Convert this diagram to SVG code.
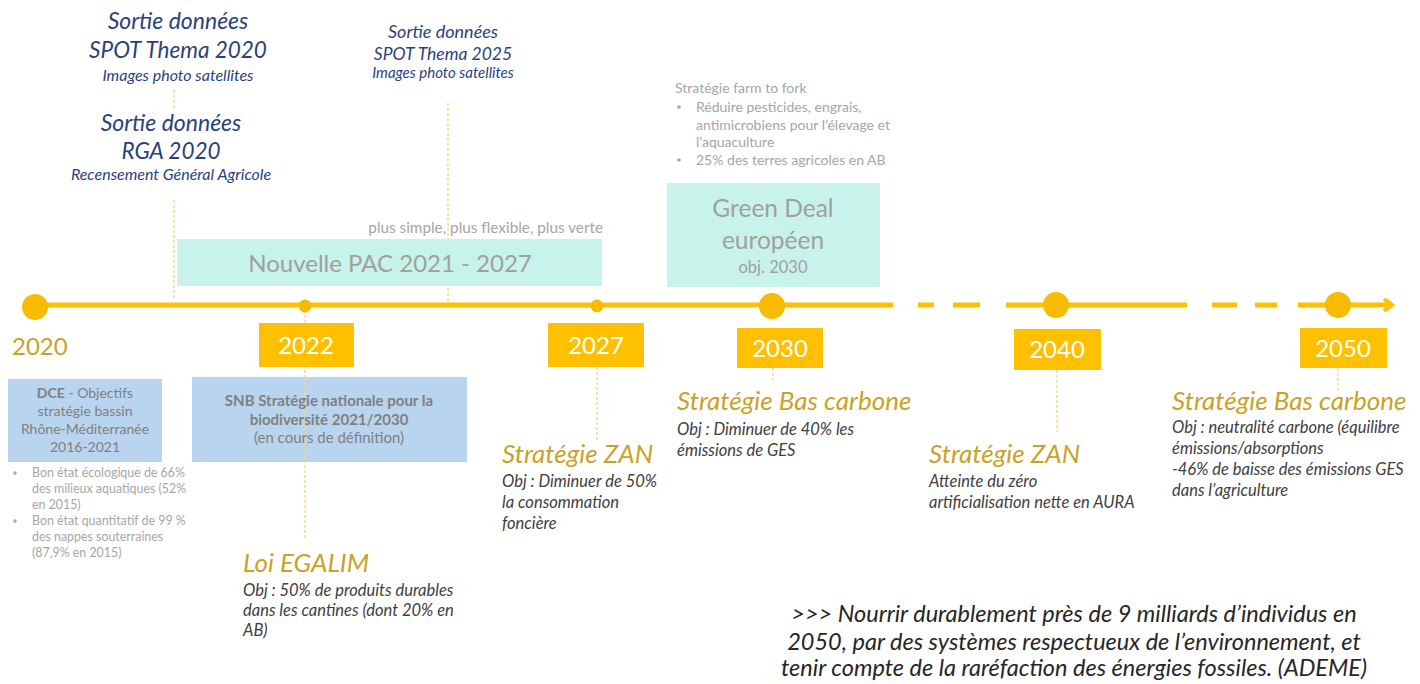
<svg xmlns="http://www.w3.org/2000/svg" width="1420" height="684" viewBox="0 0 1420 684">
<style>
text{font-family:Lato,"Open Sans","Liberation Sans",sans-serif}
.blue{fill:#2B3F7E;font-style:italic}
.gold{fill:#C9A227;font-style:italic;font-size:26px}
.desc{fill:#404040;font-style:italic;font-size:16.5px}
.gray{fill:#A6A6A6}
.box{fill:#FFC000}
.yr{fill:#FFFFFF;font-size:24px;text-anchor:middle}
.mint{fill:#C8F3EA}
.lblue{fill:#B9D4EE}
.vdash{stroke:#FFD27A;stroke-width:1.3;stroke-dasharray:3 2;fill:none}
.tl{stroke:#FFC000;stroke-width:5;fill:none}
.dot{fill:#F7BC00}
</style>
<defs>
<marker id="arr" markerWidth="12" markerHeight="14" refX="9" refY="7" orient="auto" markerUnits="userSpaceOnUse">
<path d="M1,1 L9,7 L1,13" fill="none" stroke="#FFC000" stroke-width="4" stroke-linejoin="miter"/>
</marker>
</defs>

<g id="connectors">
<line class="vdash" x1="174" y1="90" x2="174" y2="108"/>
<line class="vdash" x1="174" y1="200" x2="174" y2="300"/>
<line class="vdash" x1="448" y1="103" x2="448" y2="303"/>
<line class="vdash" x1="305" y1="310" x2="305" y2="540"/>
<line class="vdash" x1="597" y1="367" x2="597" y2="440"/>
<line class="vdash" x1="773" y1="368" x2="773" y2="380"/>
<line class="vdash" x1="1057" y1="370" x2="1057" y2="432"/>
<line class="vdash" x1="1338" y1="368" x2="1338" y2="392"/>
</g>

<g id="timeline">
<line class="tl" x1="35" y1="305" x2="893" y2="305"/>
<line class="tl" x1="918" y1="305" x2="934" y2="305"/>
<line class="tl" x1="953" y1="305" x2="980" y2="305"/>
<line class="tl" x1="1006" y1="305" x2="1187" y2="305"/>
<line class="tl" x1="1212" y1="305" x2="1237" y2="305"/>
<line class="tl" x1="1255" y1="305" x2="1277" y2="305"/>
<line class="tl" x1="1298" y1="305" x2="1392" y2="305" marker-end="url(#arr)"/>
<circle class="dot" cx="35" cy="307" r="13"/>
<circle class="dot" cx="305" cy="306" r="6.5"/>
<circle class="dot" cx="597" cy="306" r="6.5"/>
<circle class="dot" cx="772" cy="306" r="13"/>
<circle class="dot" cx="1056" cy="305" r="13"/>
<circle class="dot" cx="1338" cy="305" r="13"/>
</g>

<g id="spot2020">
<text class="blue" x="178" y="29" font-size="23" text-anchor="middle">Sortie données</text>
<text class="blue" x="178" y="58" font-size="22.5" text-anchor="middle">SPOT Thema 2020</text>
<text class="blue" x="178" y="81" font-size="16" text-anchor="middle">Images photo satellites</text>
</g>
<g id="rga2020">
<text class="blue" x="171" y="131" font-size="23" text-anchor="middle">Sortie données</text>
<text class="blue" x="171" y="159" font-size="22.5" text-anchor="middle">RGA 2020</text>
<text class="blue" x="171" y="180" font-size="16" text-anchor="middle">Recensement Général Agricole</text>
</g>
<g id="spot2025">
<text class="blue" x="443" y="38" font-size="18" text-anchor="middle">Sortie données</text>
<text class="blue" x="443" y="60" font-size="17.5" text-anchor="middle">SPOT Thema 2025</text>
<text class="blue" x="443" y="78" font-size="15" text-anchor="middle">Images photo satellites</text>
</g>

<g id="pac">
<rect class="mint" x="177" y="239" width="425" height="47"/>
<text x="390" y="272" font-size="24" text-anchor="middle" fill="#A0A0A0">Nouvelle PAC 2021 - 2027</text>
<text class="gray" x="603" y="233" font-size="15.3" text-anchor="end">plus simple, plus flexible, plus verte</text>
</g>

<g id="greendeal">
<rect class="mint" x="667" y="183" width="213" height="104"/>
<text x="773" y="217" font-size="24.5" text-anchor="middle" fill="#A0A0A0">Green Deal</text>
<text x="773" y="249" font-size="24.5" text-anchor="middle" fill="#A0A0A0">européen</text>
<text x="773" y="273" font-size="16.5" text-anchor="middle" fill="#A0A0A0">obj. 2030</text>
</g>

<g id="farmtofork" font-size="14">
<text class="gray" x="675" y="93">Stratégie farm to fork</text>
<circle cx="679" cy="107" r="1.8" fill="#A6A6A6"/>
<text class="gray" x="696" y="112">Réduire pesticides, engrais,</text>
<text class="gray" x="696" y="130">antimicrobiens pour l’élevage et</text>
<text class="gray" x="696" y="147">l’aquaculture</text>
<circle cx="679" cy="160" r="1.8" fill="#A6A6A6"/>
<text class="gray" x="696" y="165">25% des terres agricoles en AB</text>
</g>

<g id="y2020">
<text x="12" y="355" font-size="24" fill="#C9A227">2020</text>
</g>

<g id="dce">
<rect class="lblue" x="8" y="379" width="154" height="83"/>
<g font-size="14" text-anchor="middle" fill="#808080">
<text x="85" y="398"><tspan font-weight="bold">DCE</tspan> - Objectifs</text>
<text x="85" y="416">stratégie bassin</text>
<text x="85" y="434">Rhône-Méditerranée</text>
<text x="85" y="452">2016-2021</text>
</g>
<g font-size="12.4" class="gray">
<circle cx="15" cy="473" r="1.7" fill="#A6A6A6"/>
<text x="32" y="477">Bon état écologique de 66%</text>
<text x="32" y="493">des milieux aquatiques (52%</text>
<text x="32" y="509">en 2015)</text>
<circle cx="15" cy="521" r="1.7" fill="#A6A6A6"/>
<text x="32" y="525">Bon état quantitatif de 99 %</text>
<text x="32" y="541">des nappes souterraines</text>
<text x="32" y="557">(87,9% en 2015)</text>
</g>
</g>

<g id="y2022">
<rect class="box" x="259" y="323" width="95" height="44"/>
<text class="yr" x="306" y="354">2022</text>
</g>

<g id="snb">
<rect class="lblue" x="192" y="377" width="275" height="85"/>
<line class="vdash" x1="305" y1="377" x2="305" y2="462"/>
<g font-size="15" text-anchor="middle" fill="#808080">
<text x="329" y="406" font-weight="bold">SNB Stratégie nationale pour la</text>
<text x="329" y="425" font-weight="bold">biodiversité 2021/2030</text>
<text x="329" y="443">(en cours de définition)</text>
</g>
</g>

<g id="egalim">
<text class="gold" x="243" y="572">Loi EGALIM</text>
<text class="desc" x="243" y="596">Obj : 50% de produits durables</text>
<text class="desc" x="243" y="616">dans les cantines (dont 20% en</text>
<text class="desc" x="243" y="636">AB)</text>
</g>

<g id="y2027">
<rect class="box" x="548" y="323" width="96" height="44"/>
<text class="yr" x="596" y="354">2027</text>
</g>
<g id="zan2027">
<text class="gold" x="502" y="463">Stratégie ZAN</text>
<text class="desc" x="502" y="487">Obj : Diminuer de 50%</text>
<text class="desc" x="502" y="508">la consommation</text>
<text class="desc" x="502" y="529">foncière</text>
</g>

<g id="y2030">
<rect class="box" x="737" y="328" width="86" height="40"/>
<text class="yr" x="780" y="357">2030</text>
</g>
<g id="sbc2030">
<text class="gold" x="677" y="410">Stratégie Bas carbone</text>
<text class="desc" x="677" y="435">Obj : Diminuer de 40% les</text>
<text class="desc" x="677" y="456">émissions de GES</text>
</g>

<g id="y2040">
<rect class="box" x="1014" y="329" width="87" height="41"/>
<text class="yr" x="1057" y="358">2040</text>
</g>
<g id="zan2040">
<text class="gold" x="929" y="463">Stratégie ZAN</text>
<text class="desc" x="929" y="487">Atteinte du zéro</text>
<text class="desc" x="929" y="508">artificialisation nette en AURA</text>
</g>

<g id="y2050">
<rect class="box" x="1300" y="328" width="87" height="40"/>
<text class="yr" x="1343" y="357">2050</text>
</g>
<g id="sbc2050">
<text class="gold" x="1172" y="410">Stratégie Bas carbone</text>
<text class="desc" x="1172" y="433">Obj : neutralité carbone (équilibre</text>
<text class="desc" x="1172" y="454">émissions/absorptions</text>
<text class="desc" x="1172" y="475">-46% de baisse des émissions GES</text>
<text class="desc" x="1172" y="496">dans l’agriculture</text>
</g>

<g id="quote" font-size="23.5" text-anchor="middle" fill="#262626" font-style="italic">
<text x="1074" y="622">&gt;&gt;&gt; Nourrir durablement près de 9 milliards d’individus en</text>
<text x="1074" y="650">2050, par des systèmes respectueux de l’environnement, et</text>
<text x="1074" y="676">tenir compte de la raréfaction des énergies fossiles. (ADEME)</text>
</g>
</svg>
